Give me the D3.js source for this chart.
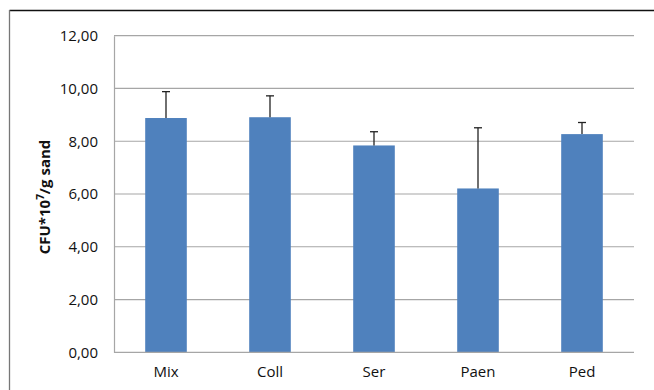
<!DOCTYPE html>
<html><head><meta charset="utf-8">
<script src="https://cdn.jsdelivr.net/npm/d3@7/dist/d3.min.js"></script>
<style>body{margin:0;background:#fff}svg{display:block}</style>
</head><body>
<script>
const categories = ["Mix", "Coll", "Ser", "Paen", "Ped"];
const values = [8.88, 8.91, 7.84, 6.21, 8.27];
const errors = [1.00, 0.81, 0.52, 2.30, 0.44];
const yTicks = [0, 2, 4, 6, 8, 10, 12];

const W = 654, H = 390;
const m = {left: 114, right: 20, top: 35.7, bottom: 37.7};
const svg = d3.select("body").append("svg").attr("width", W).attr("height", H);
const font = "'Open Sans', 'Noto Sans', sans-serif";

// outer frame
svg.append("line").attr("x1", 9.5).attr("x2", 654).attr("y1", 10.5).attr("y2", 10.5).attr("stroke", "#111").attr("stroke-width", 1.3);
svg.append("line").attr("x1", 9.5).attr("x2", 9.5).attr("y1", 10).attr("y2", 390).attr("stroke", "#777").attr("stroke-width", 1.3);

const x = d3.scaleBand().domain(categories).range([m.left, W - m.right]).paddingInner(0.6).paddingOuter(0.3);
const y = d3.scaleLinear().domain([0, 12]).range([H - m.bottom, m.top]);

// gridlines
svg.append("g").selectAll("line").data(yTicks.filter(d => d > 0)).join("line")
  .attr("x1", m.left).attr("x2", W - m.right)
  .attr("y1", d => y(d)).attr("y2", d => y(d))
  .attr("stroke", "#a6a6a6").attr("stroke-width", 1.2);

// bars
svg.append("g").selectAll("rect").data(categories).join("rect")
  .attr("x", d => x(d)).attr("width", x.bandwidth())
  .attr("y", (d, i) => y(values[i])).attr("height", (d, i) => y(0) - y(values[i]))
  .attr("fill", "#4f81bd");

// error bars
const eg = svg.append("g").attr("stroke", "#222").attr("stroke-width", 1.3);
categories.forEach((c, i) => {
  const cx = x(c) + x.bandwidth() / 2;
  eg.append("line").attr("x1", cx).attr("x2", cx).attr("y1", y(values[i])).attr("y2", y(values[i] + errors[i]));
  eg.append("line").attr("x1", cx - 4).attr("x2", cx + 4).attr("y1", y(values[i] + errors[i])).attr("y2", y(values[i] + errors[i]));
});

// y axis
const ya = svg.append("g").attr("transform", `translate(${m.left},0)`)
  .call(d3.axisLeft(y).tickValues(yTicks).tickSize(0).tickPadding(16)
    .tickFormat(d => d3.format(".2f")(d).replace(".", ",")));
ya.select(".domain").attr("stroke", "#a6a6a6").attr("stroke-width", 1.2);
ya.selectAll("text").attr("font-family", font).attr("font-size", 15).attr("fill", "#111");

// x axis
const xa = svg.append("g").attr("transform", `translate(0,${y(0)})`)
  .call(d3.axisBottom(x).tickSize(0).tickPadding(14));
xa.select(".domain").attr("stroke", "#a6a6a6").attr("stroke-width", 1.2)
  .attr("d", `M${m.left},0H${W - m.right}`);
xa.selectAll("text").attr("font-family", font).attr("font-size", 15).attr("fill", "#111");

// axis title
const t = svg.append("text").attr("transform", `translate(50,${(m.top + H - m.bottom) / 2 + 3}) rotate(-90)`)
  .attr("text-anchor", "middle").attr("font-family", font).attr("font-size", 15).attr("font-weight", "bold").attr("fill", "#111");
t.append("tspan").text("CFU*10");
t.append("tspan").attr("dy", -6).attr("font-size", 10).text("7");
t.append("tspan").attr("dy", 6).text("/g sand");
</script>
</body></html>
